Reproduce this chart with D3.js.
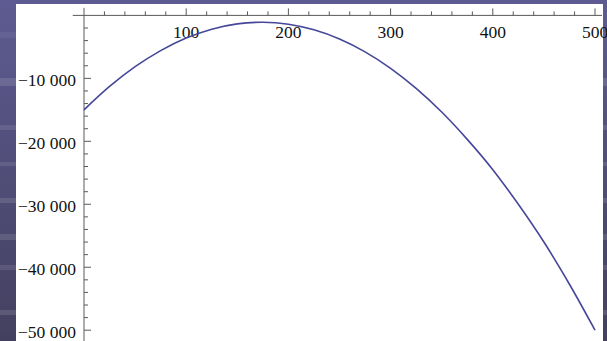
<!DOCTYPE html>
<html>
<head>
<meta charset="utf-8">
<script src="https://cdn.jsdelivr.net/npm/d3@7"></script>
<style>
  html, body { margin: 0; padding: 0; background: #fff; }
  svg { display: block; }
</style>
</head>
<body>
<svg id="chart" width="607" height="341"></svg>
<script>
// Curve samples (x, value)
const xs = [0, 25, 50, 75, 100, 125, 150, 175, 200, 225, 250, 275, 300, 325, 350, 375, 400, 425, 450, 475, 500];
const ys = [-15000, -11290, -8150, -5590, -3600, -2190, -1350, -1090, -1400, -2290, -3750, -5790, -8400, -11590, -15350, -19690, -24500, -30000, -36000, -42700, -50000];

// Axis ticks
const xMajor = [100, 200, 300, 400, 500];
const xMinor = [20, 40, 60, 80, 120, 140, 160, 180, 220, 240, 260, 280, 320, 340, 360, 380, 420, 440, 460, 480];
const yMajor = [-10000, -20000, -30000, -40000, -50000];
const yMinor = [-2000, -4000, -6000, -8000, -12000, -14000, -16000, -18000, -22000, -24000, -26000, -28000,
                -32000, -34000, -36000, -38000, -42000, -44000, -46000, -48000];
const yLabels = ["\u221210 000", "\u221220 000", "\u221230 000", "\u221240 000", "\u221250 000"];

const svg = d3.select("#chart");
const W = 607, H = 341;

// Slide frame around the plot
const defs = svg.append("defs");
const grad = defs.append("linearGradient").attr("id", "frame")
  .attr("x1", 0).attr("y1", 0).attr("x2", 0).attr("y2", 1);
grad.append("stop").attr("offset", "0%").attr("stop-color", "#5e5b92");
grad.append("stop").attr("offset", "100%").attr("stop-color", "#43405f");
svg.append("rect").attr("width", W).attr("height", H).attr("fill", "url(#frame)");
const bands = [[32, 6, 0.06], [78, 8, 0.12], [125, 5, 0.10], [162, 4, 0.10], [198, 5, 0.12], [234, 6, 0.12], [265, 5, 0.10], [310, 5, 0.12]];
svg.selectAll("rect.band").data(bands).join("rect").attr("class", "band")
  .attr("x", 0).attr("y", d => d[0]).attr("width", W).attr("height", d => d[1])
  .attr("fill", "#fff").attr("opacity", d => d[2]);
svg.append("rect").attr("x", 16).attr("y", 4).attr("width", 587).attr("height", H - 4).attr("fill", "#fff");

const x = d3.scaleLinear().domain([0, 500]).range([84, 595]);
const y = d3.scaleLinear().domain([0, -50000]).range([15.4, 330.2]);

const axisColor = "#5a5a5a";
const g = svg.append("g");

// Axis lines
g.append("line").attr("x1", x(-11)).attr("x2", 602).attr("y1", y(0)).attr("y2", y(0))
  .attr("stroke", axisColor).attr("stroke-width", 1);
g.append("line").attr("x1", x(0)).attr("x2", x(0)).attr("y1", y(1200)).attr("y2", H)
  .attr("stroke", axisColor).attr("stroke-width", 1);

// X ticks point up, away from the plot
g.selectAll("line.xmaj").data(xMajor).join("line")
  .attr("x1", d => x(d)).attr("x2", d => x(d)).attr("y1", y(0)).attr("y2", y(0) - 7)
  .attr("stroke", axisColor);
g.selectAll("line.xmin").data(xMinor).join("line")
  .attr("x1", d => x(d)).attr("x2", d => x(d)).attr("y1", y(0)).attr("y2", y(0) - 4)
  .attr("stroke", axisColor);

// Y ticks point right
g.selectAll("line.ymaj").data(yMajor).join("line")
  .attr("x1", x(0)).attr("x2", x(0) + 7).attr("y1", d => y(d)).attr("y2", d => y(d))
  .attr("stroke", axisColor);
g.selectAll("line.ymin").data(yMinor).join("line")
  .attr("x1", x(0)).attr("x2", x(0) + 4).attr("y1", d => y(d)).attr("y2", d => y(d))
  .attr("stroke", axisColor);

const font = "'Liberation Serif', 'Times New Roman', serif";
g.selectAll("text.xl").data(xMajor).join("text")
  .attr("x", d => x(d)).attr("y", y(0) + 23)
  .attr("text-anchor", "middle").attr("font-family", font).attr("font-size", 17.5)
  .attr("fill", "#111").text(d => d);
g.selectAll("text.yl").data(yMajor).join("text")
  .attr("x", 76).attr("y", d => y(d) + 8)
  .attr("text-anchor", "end").attr("font-family", font).attr("font-size", 17.5)
  .attr("fill", "#111").text((d, i) => yLabels[i]);

// Curve
const pts = xs.map((v, i) => [v, ys[i]]);
const line = d3.line().x(d => x(d[0])).y(d => y(d[1])).curve(d3.curveCatmullRom.alpha(0.5));
svg.append("path").datum(pts).attr("d", line)
  .attr("fill", "none").attr("stroke", "#46469a").attr("stroke-width", 1.6);
</script>
</body>
</html>
